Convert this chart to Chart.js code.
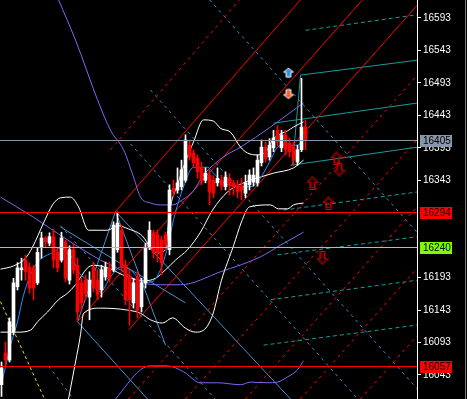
<!DOCTYPE html>
<html><head><meta charset="utf-8">
<script src="https://cdn.jsdelivr.net/npm/chart.js@4.4.1/dist/chart.umd.min.js"></script>
<style>html,body{margin:0;padding:0;background:#000;overflow:hidden}canvas{display:block}</style>
</head><body>
<canvas id="c" width="467" height="399"></canvas>
<script>
// ---- candles (bar index 0..76) ----
const candleOpen  = [16028,16077,16066,16109,16179,16205,16220,16209,16208,16185,16239,16254,16246,16256,16232,16220,16248,16189,16236,16212,16185,16189,16163,16209,16189,16174,16194,16208,16205,16236,16266,16212,16194,16154,16194,16148,16185,16239,16262,16259,16251,16259,16236,16331,16328,16333,16343,16397,16385,16377,16363,16343,16351,16343,16339,16343,16333,16346,16339,16336,16334,16323,16336,16340,16339,16370,16394,16379,16393,16420,16393,16413,16400,16394,16371,16390,16425];
const candleHigh  = [16063,16094,16131,16192,16216,16223,16228,16216,16212,16239,16263,16257,16262,16268,16239,16263,16251,16242,16246,16223,16192,16197,16202,16217,16205,16212,16217,16217,16279,16294,16274,16220,16205,16192,16202,16192,16246,16279,16266,16266,16257,16263,16336,16343,16362,16374,16413,16405,16390,16382,16371,16362,16359,16350,16362,16351,16356,16353,16343,16343,16346,16351,16359,16362,16382,16405,16402,16407,16420,16427,16420,16420,16408,16402,16397,16500,16436];
const candleLow   = [16010,16054,16063,16105,16174,16189,16189,16169,16159,16182,16223,16239,16242,16208,16202,16217,16186,16183,16199,16128,16143,16159,16128,16171,16159,16163,16189,16186,16202,16232,16205,16151,16120,16146,16131,16140,16177,16236,16223,16217,16197,16236,16228,16319,16323,16328,16340,16374,16362,16346,16336,16339,16305,16316,16334,16328,16328,16320,16320,16316,16313,16316,16328,16334,16334,16365,16371,16374,16387,16396,16387,16382,16379,16366,16366,16387,16390];
const candleClose = [16054,16066,16125,16185,16208,16208,16202,16177,16177,16232,16254,16248,16256,16220,16208,16254,16192,16236,16205,16140,16154,16169,16189,16177,16166,16205,16209,16192,16274,16277,16209,16159,16159,16185,16143,16185,16239,16266,16231,16231,16216,16243,16328,16325,16339,16359,16405,16379,16370,16356,16343,16354,16325,16323,16346,16334,16348,16336,16333,16325,16328,16339,16351,16351,16374,16394,16377,16397,16408,16402,16413,16390,16387,16374,16390,16425,16405];

// ---- price axis ----
const tickLabels = [16043,16093,16143,16193,16343,16393,16443,16493,16543,16593];
const priceMin = 16006, priceMax = 16620.7;
const barMin = -0.375, barMax = 103.875;

// ---- horizontal levels ----
const levelValues = [16405,16294,16240,16057];
const levelColors = ['#8796a8','#ff0000','#7cfc00','#ff0000'];

// ---- indicator curves (bar position, price) ----
const blueMaX = [-0.25,0.5,2.25,4,5.5,7.25,9,11.5,13,14.75,16.5,17.75,19.25,22.25,24.75,27.25,29.75,32.25,34.75,37.25,39.75,41.5,43,45.5,48,51.5,53,55.25,56.75,59.75,62.25,64,65.5,67.25,69,70.5,74,75.5];
const blueMaY = [16028,16043,16089,16125,16166,16197,16217,16228,16232,16239,16231,16223,16202,16186,16171,16194,16209,16205,16189,16186,16205,16240,16282,16333,16363,16363,16354,16340,16336,16333,16333,16340,16354,16374,16394,16397,16397,16405];

const bbUpperX = [-0.25,3,6,7.75,10.5,12.75,14.75,17.25,19.25,21.75,26.5,29,31.75,35.25,37.25,39,41,42,44,46,48,50.5,53,54.75,57.25,59.75,61.5,64,66.5,67.75,69.25,71.5,73,75.5];
const bbUpperY = [16206,16211,16223,16240,16277,16305,16316,16317,16302,16266,16266,16273,16268,16257,16239,16231,16236,16294,16336,16372,16402,16436,16434,16423,16417,16394,16385,16382,16390,16405,16413,16419,16425,16433];
const bbMidX = [-0.25,4,7.25,9,11.5,14.25,16.5,18.5,21.5,23,26.5,31.5,35.5,38.5,41,43.5,46.5,49.75,52.75,56.5,60.5,64.75,68,73,75.5];
const bbMidY = [16109,16109,16112,16125,16140,16159,16169,16182,16208,16212,16208,16194,16188,16192,16205,16220,16236,16263,16297,16325,16339,16348,16354,16362,16374];
const bbLowerX = [16.75,18.5,19.75,20.5,24.75,31.5,34.75,37.25,40.25,42.75,46,48.5,50.5,52.75,55,58,60,62,67.25,69.25,71.5,73,75.5];
const bbLowerY = [16006,16063,16105,16138,16146,16143,16138,16128,16123,16131,16115,16109,16112,16135,16189,16242,16279,16302,16305,16299,16299,16305,16308];

const envUpperX = [14.25,18.5,24,27.25,30.5,33,34.75,37.25,39.75,42.75,45.25,47.75,50.5,55.5,59.75,67.25,73,75.5];
const envUpperY = [16621,16559,16467,16420,16390,16348,16317,16308,16305,16305,16313,16325,16351,16379,16394,16425,16451,16462];
const envMidX = [-0.25,8,16.5,24.75,29.75,34.75,39.75,44.75,54.75,64.75,69.75,75.5];
const envMidY = [16317,16286,16251,16220,16205,16186,16182,16182,16202,16225,16243,16263];
const envLowerX = [28.5,34.75,37.25,41.5,45.5,49.75,54,59.75,62.25,66.5,69,71.5,74,75.5];
const envLowerY = [16006,16051,16057,16057,16048,16031,16031,16028,16032,16031,16032,16040,16051,16065];

// ---- drawn trend lines: [bar1, price1, bar2, price2] ----
const redSolidLines = [[28.5,16295,74.75,16621],[19,16125,90.25,16621],[31.75,16112,104,16613]];
const redDashedLines = [[27.25,16390,59.5,16621],[31.75,16006,104,16505],[46,16006,104,16406],[61,16006,104,16303],[74.75,16006,104,16208],[89.75,16006,104,16104]];
const blueDashedLines = [[52,16621,104,16262],[37.25,16482,104,16021],[32.25,16399,89.1,16006],[14.75,16273,53.4,16006],[11.75,16057,18,16006]];
const blueSolidLines = [[19,16125,36.5,16006],[28.5,16295,72.25,16006],[19,16125,28.5,16295],[14.75,16271,46,16154],[28.5,16295,41,16089]];
const tealSolidLines = [[74.75,16505,104,16528],[68,16431,104,16462],[72.25,16366,104,16394],[74.75,16505,72.75,16366]];
const tealDashedLines = [[76,16574,104,16598],[70.5,16297,104,16325],[69,16228,104,16256],[67.25,16159,104,16189],[65.5,16089,104,16120]];
const yellowDashedLines = [[-0.25,16156,10.75,16006]];

// ---- signal arrows ----
const arrowX = [71.75,71.75,83.75,84.5,77.75,81.75,80.25];
const arrowY = [16508,16475,16377,16359,16339,16308,16223];
const arrowKind = ['blueUp','orangeDown','redUp','redDown','redUp','redUp','redDown'];

// ================= build =================
const FONT = "'Liberation Sans Narrow','Liberation Sans',Arial,sans-serif";

function arrowPoly(g, dir, ox, oy, w, h) {
  const m = w/2, sh = h*0.45, s1 = w*0.27, s2 = w*0.73;
  let p = [[m,0],[w,sh],[s2,sh],[s2,h],[s1,h],[s1,sh],[0,sh]];
  if (dir === 'down') p = p.map(q => [q[0], h - q[1]]);
  g.beginPath();
  p.forEach((q,i)=> i ? g.lineTo(ox+q[0], oy+q[1]) : g.moveTo(ox+q[0], oy+q[1]));
  g.closePath();
}
function makeArrow(kind) {
  const c = document.createElement('canvas');
  c.width = 12; c.height = 14;
  const g = c.getContext('2d');
  if (kind === 'blueUp' || kind === 'orangeDown') {
    arrowPoly(g, kind === 'blueUp' ? 'up' : 'down', 1, 2, 10, 9);
    g.fillStyle = kind === 'blueUp' ? '#2f8ee0' : '#ff5a2a';
    g.fill();
    g.strokeStyle = '#ffffff'; g.lineWidth = 1; g.stroke();
  } else {
    const dir = kind === 'redUp' ? 'up' : 'down';
    arrowPoly(g, dir, 0.5, 0.5, 11, 13);
    g.strokeStyle = '#e00000'; g.lineWidth = 1; g.stroke();
    arrowPoly(g, dir, 2.5, 2.5, 7, 9);
    g.strokeStyle = '#a00000'; g.stroke();
  }
  return c;
}
const arrowImgs = arrowKind.map(makeArrow);

const pts = (xs, ys) => xs.map((x,i)=>({x, y: ys[i]}));
const seg = a => [{x:a[0], y:a[1]}, {x:a[2], y:a[3]}];

function lineDS(data, color, opts = {}) {
  return Object.assign({
    type: 'line', data, borderColor: color, borderWidth: 1, pointRadius: 0,
    fill: false, tension: 0, order: 3, borderDash: []
  }, opts);
}

const datasets = [];
datasets.push({type:'line', showLine:false, data: pts(arrowX, arrowY), pointStyle: arrowImgs, pointRadius: 6, order: 0});
const candleColor = candleOpen.map((o,i)=> candleClose[i] >= o ? '#ffffff' : '#ff0000');
datasets.push({type:'bar', data: candleOpen.map((o,i)=>({x:i, y:[o, candleClose[i]]})), backgroundColor: candleColor, barThickness: 3, minBarLength: 1, grouped: false, order: 1, borderWidth: 0});
datasets.push({type:'bar', data: candleLow.map((l,i)=>({x:i, y:[l, candleHigh[i]]})), backgroundColor: candleColor, barThickness: 1, grouped: false, order: 1, borderWidth: 0});
const smooth = {order:2, cubicInterpolationMode:'monotone'};
datasets.push(lineDS(pts(blueMaX, blueMaY), '#1e90ff', smooth));
datasets.push(lineDS(pts(bbUpperX, bbUpperY), '#ffffff', smooth));
datasets.push(lineDS(pts(bbMidX, bbMidY), '#ffffff', smooth));
datasets.push(lineDS(pts(bbLowerX, bbLowerY), '#ffffff', smooth));
datasets.push(lineDS(pts(envUpperX, envUpperY), '#7b68ee', smooth));
datasets.push(lineDS(pts(envMidX, envMidY), '#7b68ee', smooth));
datasets.push(lineDS(pts(envLowerX, envLowerY), '#7b68ee', smooth));
redSolidLines.forEach(a => datasets.push(lineDS(seg(a), '#ff0000')));
redDashedLines.forEach(a => datasets.push(lineDS(seg(a), '#ff0000', {borderDash:[3,4]})));
blueDashedLines.forEach(a => datasets.push(lineDS(seg(a), '#4a86c0', {borderDash:[3,4]})));
blueSolidLines.forEach(a => datasets.push(lineDS(seg(a), '#4a8fd0')));
tealSolidLines.forEach(a => datasets.push(lineDS(seg(a), '#1b9a9a')));
tealDashedLines.forEach(a => datasets.push(lineDS(seg(a), '#1b9a9a', {borderDash:[4,3]})));
yellowDashedLines.forEach(a => datasets.push(lineDS(seg(a), '#ffd700', {borderDash:[3,3]})));

const levelPlugin = {
  id: 'levels',
  afterDatasetsDraw(chart) {
    const {ctx, chartArea} = chart;
    const y = chart.scales.y;
    ctx.save();
    ctx.lineWidth = 1;
    levelValues.forEach((v,i)=>{
      const py = Math.round(y.getPixelForValue(v)) + 0.5;
      ctx.strokeStyle = levelColors[i];
      ctx.beginPath(); ctx.moveTo(chartArea.left, py); ctx.lineTo(chartArea.right, py); ctx.stroke();
    });
    ctx.restore();
  },
  afterDraw(chart) {
    const {ctx, chartArea} = chart;
    const y = chart.scales.y;
    ctx.save();
    ctx.font = '10px ' + FONT;
    ctx.textBaseline = 'middle';
    ctx.textAlign = 'left';
    levelValues.forEach((v,i)=>{
      const py = Math.round(y.getPixelForValue(v));
      ctx.fillStyle = levelColors[i];
      ctx.fillRect(chartArea.right + 3, py - 5, 32, 12);
      ctx.fillStyle = '#000000';
      ctx.fillText(String(v), chartArea.right + 6, py + 1);
    });
    ctx.fillStyle = '#7a7a7a';
    ctx.fillRect(chart.width - 2, 0, 1, chart.height);
    ctx.restore();
  }
};

new Chart(document.getElementById('c'), {
  type: 'line',
  data: { datasets },
  options: {
    responsive: false, animation: false, events: [],
    layout: { padding: 0, autoPadding: false },
    plugins: { legend: {display:false}, tooltip: {enabled:false} },
    scales: {
      x: { type:'linear', min: barMin, max: barMax, display: false, offset: false },
      y: {
        type:'linear', position:'right', min: priceMin, max: priceMax,
        afterBuildTicks: s => { s.ticks = tickLabels.map(v => ({value: v})); },
        afterFit: s => { s.width = 50; s.paddingTop = 0; s.paddingBottom = 0; },
        ticks: { color:'#ffffff', font:{size:10, family: FONT}, padding: 2, autoSkip:false, callback: v => String(v) },
        grid: { drawOnChartArea:false, drawTicks:true, tickLength:4, color:'#ffffff' },
        border: { display:true, color:'#ffffff', width:1 }
      }
    }
  },
  plugins: [levelPlugin]
});
</script>
</body></html>
